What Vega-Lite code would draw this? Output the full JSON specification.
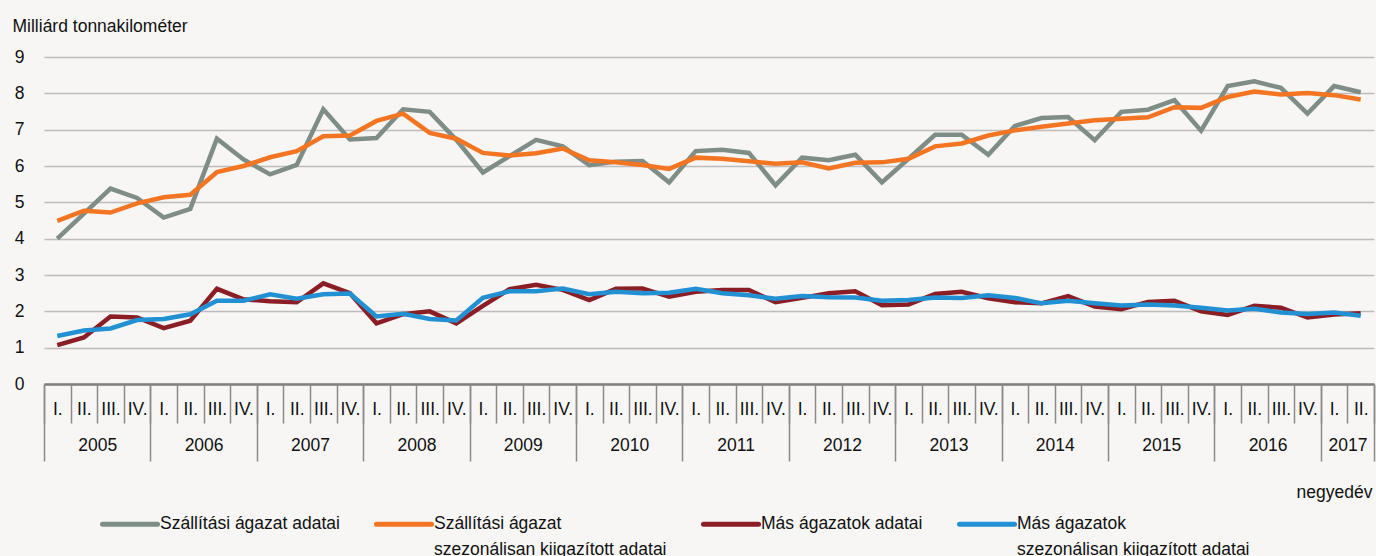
{
  "$schema": "https://vega.github.io/schema/vega-lite/v6.json",
  "autosize": {"type": "none"},
  "width": 1330,
  "height": 327,
  "padding": {"left": 44, "top": 57, "right": 2, "bottom": 172},
  "background": "#f7f6f5",
  "config": {
    "view": {"stroke": null},
    "font": "Liberation Sans, Arial, sans-serif",
    "axis": {"labelColor": "#111111", "titleColor": "#111111", "labelFontSize": 17.5, "titleFontSize": 17.5, "titleFontWeight": "normal"},
    "legend": {"labelColor": "#111111", "labelFontSize": 17.5}
  },
  "data": {
    "values": [
      {"t": 1, "ev": 2005, "n": "I.", "Szállítási ágazat adatai": 4.00, "Szállítási ágazat szezonálisan kiigazított adatai": 4.49, "Más ágazatok adatai": 1.07, "Más ágazatok szezonálisan kiigazított adatai": 1.32},
      {"t": 2, "ev": 2005, "n": "II.", "Szállítási ágazat adatai": 4.69, "Szállítási ágazat szezonálisan kiigazított adatai": 4.77, "Más ágazatok adatai": 1.28, "Más ágazatok szezonálisan kiigazított adatai": 1.47},
      {"t": 3, "ev": 2005, "n": "III.", "Szállítási ágazat adatai": 5.38, "Szállítási ágazat szezonálisan kiigazított adatai": 4.72, "Más ágazatok adatai": 1.86, "Más ágazatok szezonálisan kiigazított adatai": 1.53},
      {"t": 4, "ev": 2005, "n": "IV.", "Szállítási ágazat adatai": 5.12, "Szállítási ágazat szezonálisan kiigazított adatai": 4.97, "Más ágazatok adatai": 1.83, "Más ágazatok szezonálisan kiigazított adatai": 1.76},
      {"t": 5, "ev": 2006, "n": "I.", "Szállítási ágazat adatai": 4.58, "Szállítási ágazat szezonálisan kiigazított adatai": 5.14, "Más ágazatok adatai": 1.54, "Más ágazatok szezonálisan kiigazított adatai": 1.79},
      {"t": 6, "ev": 2006, "n": "II.", "Szállítási ágazat adatai": 4.82, "Szállítási ágazat szezonálisan kiigazított adatai": 5.21, "Más ágazatok adatai": 1.74, "Más ágazatok szezonálisan kiigazított adatai": 1.92},
      {"t": 7, "ev": 2006, "n": "III.", "Szállítási ágazat adatai": 6.75, "Szállítási ágazat szezonálisan kiigazított adatai": 5.83, "Más ágazatok adatai": 2.62, "Más ágazatok szezonálisan kiigazított adatai": 2.29},
      {"t": 8, "ev": 2006, "n": "IV.", "Szállítási ágazat adatai": 6.18, "Szállítási ágazat szezonálisan kiigazított adatai": 6.00, "Más ágazatok adatai": 2.33, "Más ágazatok szezonálisan kiigazított adatai": 2.29},
      {"t": 9, "ev": 2007, "n": "I.", "Szállítási ágazat adatai": 5.77, "Szállítási ágazat szezonálisan kiigazított adatai": 6.24, "Más ágazatok adatai": 2.28, "Más ágazatok szezonálisan kiigazított adatai": 2.47},
      {"t": 10, "ev": 2007, "n": "II.", "Szállítási ágazat adatai": 6.03, "Szállítási ágazat szezonálisan kiigazított adatai": 6.41, "Más ágazatok adatai": 2.25, "Más ágazatok szezonálisan kiigazított adatai": 2.35},
      {"t": 11, "ev": 2007, "n": "III.", "Szállítási ágazat adatai": 7.56, "Szállítási ágazat szezonálisan kiigazított adatai": 6.82, "Más ágazatok adatai": 2.77, "Más ágazatok szezonálisan kiigazított adatai": 2.47},
      {"t": 12, "ev": 2007, "n": "IV.", "Szállítási ágazat adatai": 6.73, "Szállítási ágazat szezonálisan kiigazított adatai": 6.84, "Más ágazatok adatai": 2.50, "Más ágazatok szezonálisan kiigazított adatai": 2.49},
      {"t": 13, "ev": 2008, "n": "I.", "Szállítási ágazat adatai": 6.77, "Szállítási ágazat szezonálisan kiigazított adatai": 7.24, "Más ágazatok adatai": 1.67, "Más ágazatok szezonálisan kiigazított adatai": 1.86},
      {"t": 14, "ev": 2008, "n": "II.", "Szállítási ágazat adatai": 7.56, "Szállítási ágazat szezonálisan kiigazított adatai": 7.44, "Más ágazatok adatai": 1.92, "Más ágazatok szezonálisan kiigazított adatai": 1.93},
      {"t": 15, "ev": 2008, "n": "III.", "Szállítási ágazat adatai": 7.49, "Szállítási ágazat szezonálisan kiigazított adatai": 6.91, "Más ágazatok adatai": 2.00, "Más ágazatok szezonálisan kiigazított adatai": 1.79},
      {"t": 16, "ev": 2008, "n": "IV.", "Szállítási ágazat adatai": 6.72, "Szállítási ágazat szezonálisan kiigazított adatai": 6.75, "Más ágazatok adatai": 1.67, "Más ágazatok szezonálisan kiigazított adatai": 1.75},
      {"t": 17, "ev": 2009, "n": "I.", "Szállítási ágazat adatai": 5.82, "Szállítási ágazat szezonálisan kiigazított adatai": 6.36, "Más ágazatok adatai": 2.15, "Más ágazatok szezonálisan kiigazított adatai": 2.37},
      {"t": 18, "ev": 2009, "n": "II.", "Szállítási ágazat adatai": 6.27, "Szállítási ágazat szezonálisan kiigazított adatai": 6.29, "Más ágazatok adatai": 2.61, "Más ágazatok szezonálisan kiigazított adatai": 2.55},
      {"t": 19, "ev": 2009, "n": "III.", "Szállítási ágazat adatai": 6.72, "Szállítási ágazat szezonálisan kiigazított adatai": 6.35, "Más ágazatok adatai": 2.73, "Más ágazatok szezonálisan kiigazított adatai": 2.55},
      {"t": 20, "ev": 2009, "n": "IV.", "Szállítási ágazat adatai": 6.54, "Szállítási ágazat szezonálisan kiigazított adatai": 6.48, "Más ágazatok adatai": 2.59, "Más ágazatok szezonálisan kiigazított adatai": 2.63},
      {"t": 21, "ev": 2010, "n": "I.", "Szállítási ágazat adatai": 6.02, "Szállítási ágazat szezonálisan kiigazított adatai": 6.16, "Más ágazatok adatai": 2.31, "Más ágazatok szezonálisan kiigazított adatai": 2.47},
      {"t": 22, "ev": 2010, "n": "II.", "Szállítási ágazat adatai": 6.12, "Szállítási ágazat szezonálisan kiigazított adatai": 6.10, "Más ágazatok adatai": 2.62, "Más ágazatok szezonálisan kiigazított adatai": 2.54},
      {"t": 23, "ev": 2010, "n": "III.", "Szállítási ágazat adatai": 6.14, "Szállítási ágazat szezonálisan kiigazított adatai": 6.03, "Más ágazatok adatai": 2.63, "Más ágazatok szezonálisan kiigazított adatai": 2.50},
      {"t": 24, "ev": 2010, "n": "IV.", "Szállítási ágazat adatai": 5.55, "Szállítási ágazat szezonálisan kiigazított adatai": 5.92, "Más ágazatok adatai": 2.40, "Más ágazatok szezonálisan kiigazított adatai": 2.51},
      {"t": 25, "ev": 2011, "n": "I.", "Szállítási ágazat adatai": 6.41, "Szállítási ágazat szezonálisan kiigazított adatai": 6.23, "Más ágazatok adatai": 2.54, "Más ágazatok szezonálisan kiigazított adatai": 2.62},
      {"t": 26, "ev": 2011, "n": "II.", "Szállítási ágazat adatai": 6.45, "Szállítási ágazat szezonálisan kiigazított adatai": 6.20, "Más ágazatok adatai": 2.59, "Más ágazatok szezonálisan kiigazított adatai": 2.50},
      {"t": 27, "ev": 2011, "n": "III.", "Szállítási ágazat adatai": 6.36, "Szállítási ágazat szezonálisan kiigazított adatai": 6.13, "Más ágazatok adatai": 2.59, "Más ágazatok szezonálisan kiigazított adatai": 2.44},
      {"t": 28, "ev": 2011, "n": "IV.", "Szállítási ágazat adatai": 5.47, "Szállítási ágazat szezonálisan kiigazított adatai": 6.06, "Más ágazatok adatai": 2.25, "Más ágazatok szezonálisan kiigazított adatai": 2.35},
      {"t": 29, "ev": 2012, "n": "I.", "Szállítási ágazat adatai": 6.23, "Szállítási ágazat szezonálisan kiigazított adatai": 6.10, "Más ágazatok adatai": 2.37, "Más ágazatok szezonálisan kiigazított adatai": 2.42},
      {"t": 30, "ev": 2012, "n": "II.", "Szállítási ágazat adatai": 6.16, "Szállítási ágazat szezonálisan kiigazított adatai": 5.93, "Más ágazatok adatai": 2.50, "Más ágazatok szezonálisan kiigazított adatai": 2.39},
      {"t": 31, "ev": 2012, "n": "III.", "Szállítási ágazat adatai": 6.31, "Szállítási ágazat szezonálisan kiigazított adatai": 6.09, "Más ágazatok adatai": 2.55, "Más ágazatok szezonálisan kiigazított adatai": 2.38},
      {"t": 32, "ev": 2012, "n": "IV.", "Szállítási ágazat adatai": 5.55, "Szállítási ágazat szezonálisan kiigazított adatai": 6.10, "Más ágazatok adatai": 2.17, "Más ágazatok szezonálisan kiigazított adatai": 2.29},
      {"t": 33, "ev": 2013, "n": "I.", "Szállítási ágazat adatai": 6.20, "Szállítási ágazat szezonálisan kiigazított adatai": 6.20, "Más ágazatok adatai": 2.19, "Más ágazatok szezonálisan kiigazított adatai": 2.31},
      {"t": 34, "ev": 2013, "n": "II.", "Szállítási ágazat adatai": 6.86, "Szállítási ágazat szezonálisan kiigazított adatai": 6.54, "Más ágazatok adatai": 2.48, "Más ágazatok szezonálisan kiigazított adatai": 2.38},
      {"t": 35, "ev": 2013, "n": "III.", "Szállítási ágazat adatai": 6.86, "Szállítási ágazat szezonálisan kiigazított adatai": 6.62, "Más ágazatok adatai": 2.54, "Más ágazatok szezonálisan kiigazított adatai": 2.37},
      {"t": 36, "ev": 2013, "n": "IV.", "Szállítási ágazat adatai": 6.31, "Szállítási ágazat szezonálisan kiigazított adatai": 6.84, "Más ágazatok adatai": 2.36, "Más ágazatok szezonálisan kiigazított adatai": 2.44},
      {"t": 37, "ev": 2014, "n": "I.", "Szállítási ágazat adatai": 7.10, "Szállítási ágazat szezonálisan kiigazított adatai": 6.98, "Más ágazatok adatai": 2.25, "Más ágazatok szezonálisan kiigazított adatai": 2.37},
      {"t": 38, "ev": 2014, "n": "II.", "Szállítási ágazat adatai": 7.32, "Szállítási ágazat szezonálisan kiigazított adatai": 7.08, "Más ágazatok adatai": 2.22, "Más ágazatok szezonálisan kiigazított adatai": 2.22},
      {"t": 39, "ev": 2014, "n": "III.", "Szállítási ágazat adatai": 7.35, "Szállítási ágazat szezonálisan kiigazított adatai": 7.17, "Más ágazatok adatai": 2.42, "Más ágazatok szezonálisan kiigazított adatai": 2.29},
      {"t": 40, "ev": 2014, "n": "IV.", "Szállítási ágazat adatai": 6.71, "Szállítási ágazat szezonálisan kiigazított adatai": 7.26, "Más ágazatok adatai": 2.13, "Más ágazatok szezonálisan kiigazított adatai": 2.22},
      {"t": 41, "ev": 2015, "n": "I.", "Szállítási ágazat adatai": 7.49, "Szállítási ágazat szezonálisan kiigazított adatai": 7.30, "Más ágazatok adatai": 2.06, "Más ágazatok szezonálisan kiigazított adatai": 2.16},
      {"t": 42, "ev": 2015, "n": "II.", "Szállítási ágazat adatai": 7.55, "Szállítási ágazat szezonálisan kiigazított adatai": 7.34, "Más ágazatok adatai": 2.26, "Más ágazatok szezonálisan kiigazított adatai": 2.19},
      {"t": 43, "ev": 2015, "n": "III.", "Szállítási ágazat adatai": 7.81, "Szállítási ágazat szezonálisan kiigazított adatai": 7.62, "Más ágazatok adatai": 2.29, "Más ágazatok szezonálisan kiigazított adatai": 2.16},
      {"t": 44, "ev": 2015, "n": "IV.", "Szállítási ágazat adatai": 6.97, "Szállítási ágazat szezonálisan kiigazított adatai": 7.60, "Más ágazatok adatai": 2.00, "Más ágazatok szezonálisan kiigazított adatai": 2.10},
      {"t": 45, "ev": 2016, "n": "I.", "Szállítási ágazat adatai": 8.20, "Szállítási ágazat szezonálisan kiigazított adatai": 7.90, "Más ágazatok adatai": 1.90, "Más ágazatok szezonálisan kiigazított adatai": 2.02},
      {"t": 46, "ev": 2016, "n": "II.", "Szállítási ágazat adatai": 8.33, "Szállítási ágazat szezonálisan kiigazított adatai": 8.05, "Más ágazatok adatai": 2.15, "Más ágazatok szezonálisan kiigazított adatai": 2.07},
      {"t": 47, "ev": 2016, "n": "III.", "Szállítási ágazat adatai": 8.15, "Szállítási ágazat szezonálisan kiigazított adatai": 7.97, "Más ágazatok adatai": 2.10, "Más ágazatok szezonálisan kiigazított adatai": 1.97},
      {"t": 48, "ev": 2016, "n": "IV.", "Szállítási ágazat adatai": 7.44, "Szállítási ágazat szezonálisan kiigazított adatai": 8.01, "Más ágazatok adatai": 1.83, "Más ágazatok szezonálisan kiigazított adatai": 1.93},
      {"t": 49, "ev": 2017, "n": "I.", "Szállítási ágazat adatai": 8.20, "Szállítási ágazat szezonálisan kiigazított adatai": 7.95, "Más ágazatok adatai": 1.91, "Más ágazatok szezonálisan kiigazított adatai": 1.97},
      {"t": 50, "ev": 2017, "n": "II.", "Szállítási ágazat adatai": 8.03, "Szállítási ágazat szezonálisan kiigazított adatai": 7.83, "Más ágazatok adatai": 1.95, "Más ágazatok szezonálisan kiigazított adatai": 1.88}
    ]
  },
  "transform": [
    {"fold": ["Szállítási ágazat adatai", "Szállítási ágazat szezonálisan kiigazított adatai", "Más ágazatok adatai", "Más ágazatok szezonálisan kiigazított adatai"], "as": ["sorozat", "ertek"]}
  ],
  "resolve": {"axis": {"x": "independent"}},
  "layer": [
    {
      "mark": {"type": "line", "strokeWidth": 4.5},
      "encoding": {
        "x": {
          "field": "t", "type": "quantitative",
          "scale": {"domain": [0.5, 50.5], "nice": false, "zero": false},
          "axis": {
            "orient": "bottom", "title": null,
            "values": [1,2,3,4,5,6,7,8,9,10,11,12,13,14,15,16,17,18,19,20,21,22,23,24,25,26,27,28,29,30,31,32,33,34,35,36,37,38,39,40,41,42,43,44,45,46,47,48,49,50],
            "labelExpr": "['I.','II.','III.','IV.'][(datum.value - 1) % 4]",
            "ticks": false, "grid": false,
            "domain": true, "domainColor": "#7f7f7f", "domainWidth": 2.5,
            "labelPadding": 25, "labelBaseline": "middle",
            "labelFlush": false, "labelOverlap": false, "labelBound": false
          }
        },
        "y": {
          "field": "ertek", "type": "quantitative",
          "scale": {"domain": [0, 9], "nice": false},
          "axis": {
            "values": [0,1,2,3,4,5,6,7,8,9],
            "title": "Milliárd tonnakilométer",
            "titleAngle": 0, "titleAlign": "left", "titleBaseline": "middle",
            "titleX": -32, "titleY": -31,
            "domain": false, "ticks": false,
            "grid": true, "gridColor": "#bdbdbd", "gridWidth": 1.5,
            "labelPadding": 20, "labelFlush": false
          }
        },
        "color": {
          "field": "sorozat", "type": "nominal",
          "scale": {
            "domain": ["Szállítási ágazat adatai", "Szállítási ágazat szezonálisan kiigazított adatai", "Más ágazatok adatai", "Más ágazatok szezonálisan kiigazított adatai"],
            "range": ["#7e8d85", "#f47521", "#8b1e24", "#2191d4"]
          },
          "legend": {
            "orient": "none", "legendX": 56, "legendY": 437,
            "direction": "horizontal", "columns": 4,
            "title": null,
            "symbolType": "stroke", "symbolSize": 3025, "symbolStrokeWidth": 5,
            "labelOffset": 0, "labelLimit": 600, "columnPadding": 26,
            "labelBaseline": "middle",
            "labelExpr": "indexof(datum.label, ' szezonálisan') > 0 ? split(replace(datum.label, ' szezonálisan', '|szezonálisan'), '|') : [datum.label, ' ']",
            "encode": {
              "symbols": {"update": {"strokeCap": {"value": "round"}}},
              "labels": {"update": {"lineHeight": {"value": 26}}}
            }
          }
        }
      }
    },
    {
      "mark": {"type": "point", "opacity": 0},
      "encoding": {
        "x": {
          "field": "t", "type": "quantitative",
          "axis": {
            "orient": "bottom", "title": null,
            "values": [0.5,1.5,2.5,3.5,4.5,5.5,6.5,7.5,8.5,9.5,10.5,11.5,12.5,13.5,14.5,15.5,16.5,17.5,18.5,19.5,20.5,21.5,22.5,23.5,24.5,25.5,26.5,27.5,28.5,29.5,30.5,31.5,32.5,33.5,34.5,35.5,36.5,37.5,38.5,39.5,40.5,41.5,42.5,43.5,44.5,45.5,46.5,47.5,48.5,49.5,50.5],
            "labels": false, "domain": false, "grid": false,
            "ticks": true, "tickSize": 39, "tickColor": "#8a8a8a", "tickWidth": 1.5
          }
        }
      }
    },
    {
      "mark": {"type": "point", "opacity": 0},
      "encoding": {
        "x": {
          "field": "t", "type": "quantitative",
          "axis": {
            "orient": "bottom", "title": null,
            "values": [0.5,4.5,8.5,12.5,16.5,20.5,24.5,28.5,32.5,36.5,40.5,44.5,48.5,50.5],
            "labels": false, "domain": false, "grid": false,
            "ticks": true, "tickSize": 77, "tickColor": "#8a8a8a", "tickWidth": 1.5
          }
        }
      }
    },
    {
      "mark": {"type": "point", "opacity": 0},
      "encoding": {
        "x": {
          "field": "t", "type": "quantitative",
          "axis": {
            "orient": "bottom",
            "values": [2.5,6.5,10.5,14.5,18.5,22.5,26.5,30.5,34.5,38.5,42.5,46.5,49.5],
            "labelExpr": "toString(2005 + floor(datum.value / 4))",
            "ticks": false, "domain": false, "grid": false,
            "labelPadding": 61, "labelBaseline": "middle",
            "labelFlush": false, "labelOverlap": false, "labelBound": false,
            "title": "negyedév", "titleAlign": "right", "titleBaseline": "middle",
            "titleX": 1328, "titleY": 108
          }
        }
      }
    }
  ]
}
